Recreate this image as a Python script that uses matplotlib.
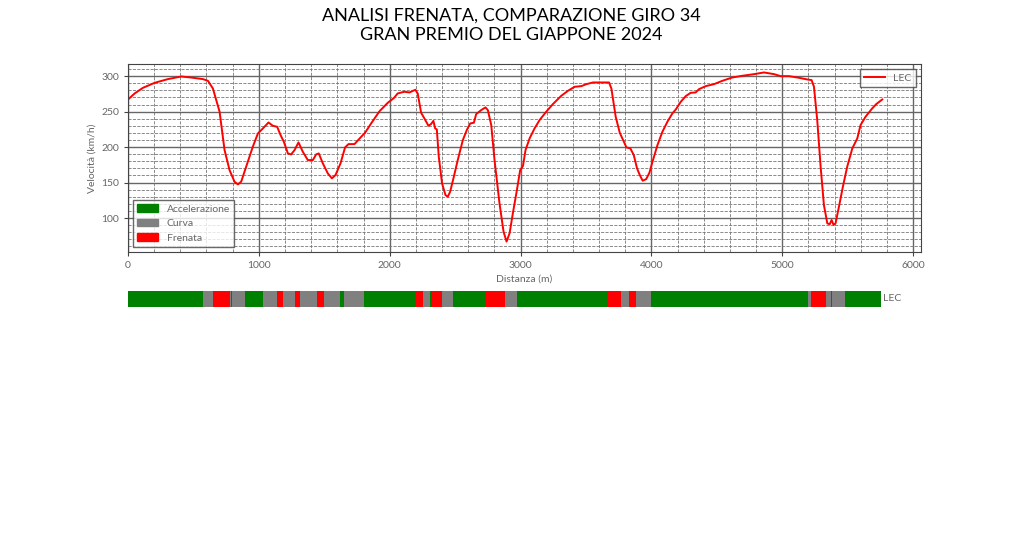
import matplotlib
matplotlib.use('Agg')
import matplotlib.pyplot as plt
from matplotlib.patches import Patch
from matplotlib.ticker import MultipleLocator

plt.rcParams['font.family'] = ['Lato', 'DejaVu Sans']

# giro 34 - LEC, distanza (m) e velocita (km/h)
dist = [0, 51, 115, 204, 305, 407, 484, 573, 611, 649, 700, 738, 776, 814, 840,
        865, 903, 954, 993, 1031, 1074, 1107, 1140, 1166, 1191, 1222, 1247, 1273,
        1303, 1336, 1374, 1413, 1438, 1458, 1489, 1527, 1558, 1586, 1624, 1659,
        1685, 1731, 1782, 1812, 1858, 1922, 1985, 2031, 2061, 2112, 2151, 2196,
        2214, 2240, 2265, 2296, 2316, 2334, 2347, 2360, 2375, 2400, 2426, 2444,
        2462, 2487, 2520, 2559, 2589, 2615, 2643, 2661, 2699, 2732, 2750, 2776,
        2801, 2839, 2870, 2893, 2916, 2941, 2972, 2997, 3018, 3038, 3069, 3107,
        3145, 3196, 3247, 3311, 3362, 3413, 3464, 3503, 3554, 3617, 3676, 3694,
        3727, 3758, 3783, 3809, 3839, 3865, 3890, 3911, 3933, 3960, 3985, 4008,
        4046, 4084, 4122, 4160, 4186, 4224, 4262, 4300, 4338, 4364, 4415, 4478,
        4542, 4618, 4695, 4784, 4860, 4937, 4987, 5051, 5127, 5191, 5224, 5242,
        5267, 5293, 5318, 5344, 5362, 5377, 5392, 5407, 5433, 5463, 5496, 5535,
        5573, 5598, 5636, 5687, 5718, 5764]
speed = [267, 275.6, 283.6, 290.6, 295.8, 299.5, 298, 295.8, 293.4, 282.6, 249.8,
         195.8, 167.6, 151.2, 147.4, 151.2, 172.3, 200.5, 219.2, 226.3, 234.7, 230,
         228.6, 216.9, 207.5, 191, 189.7, 195.8, 206.6, 193.4, 181.7, 181.7, 189.7,
         191, 177, 162.9, 155.9, 160.6, 177, 199.5, 204.2, 204.2, 214.5, 220.2,
         233.3, 250.5, 262.4, 269, 275.6, 278, 277, 280.8, 275.6, 248.4, 240.4, 230,
         232.4, 237, 226.3, 224.9, 186.4, 148.8, 132.4, 130, 137.1, 155.9, 181.7,
         209.9, 224, 233.3, 234.3, 246.5, 252.1, 255.9, 252.1, 231, 181.7, 120.7,
         80.7, 66.7, 78.4, 106.6, 139.4, 167.6, 173.2, 195.8, 212.2, 226.3, 238,
         249.8, 260.6, 272.3, 279.3, 285, 285.9, 288.7, 291.1, 291.1, 291.1, 282.6,
         242.7, 220.2, 209.9, 199.5, 198.1, 188.7, 170, 160.6, 152.6, 154.8, 164,
         179.3, 202.8, 221.6, 235.7, 247.4, 253, 263.8, 271.8, 276.5, 277, 281.7,
         285.9, 288.7, 293.4, 298.1, 300.5, 302.8, 305.2, 302.8, 300, 300, 297.7,
         295.3, 294.4, 285, 238, 172.3, 118.3, 92.5, 91.1, 97.2, 90.1, 92.5, 116,
         144.1, 172.3, 198.1, 212.2, 231, 242.7, 254.5, 260.6, 267.1]

# fasi: inizio, fine (m), tipo
seg_start = [0, 573, 649, 776, 786, 797, 898, 1031, 1140, 1183, 1278, 1318, 1443,
             1499, 1621, 1647, 1802, 2201, 2252, 2311, 2321, 2400, 2486, 2728,
             2878, 2974, 3657, 3769, 3830, 3883, 3998, 5196, 5222, 5331, 5369,
             5379, 5476]
seg_end = seg_start[1:] + [5756]
seg_type = ['A', 'C', 'F', 'C', 'F', 'C', 'A', 'C', 'F', 'C', 'F', 'C', 'F',
            'C', 'A', 'C', 'A', 'F', 'C', 'A', 'F', 'C', 'A', 'F',
            'C', 'A', 'F', 'C', 'F', 'C', 'A', 'C', 'F', 'C', 'F',
            'C', 'A']
colori = {'A': 'green', 'C': 'gray', 'F': 'red'}

txt = '#666666'
fig = plt.figure(figsize=(10.23, 5.34), dpi=100)
ax = fig.add_axes([0.1251, 0.528, 0.7752, 0.352])
ax.plot(dist, speed, color='red', lw=1.4, label='LEC')
ax.set_xlim(0, 6060)
ax.set_ylim(52, 317)
ax.xaxis.set_major_locator(MultipleLocator(1000))
ax.xaxis.set_minor_locator(MultipleLocator(200))
ax.yaxis.set_major_locator(MultipleLocator(50))
ax.yaxis.set_minor_locator(MultipleLocator(10))
ax.set_yticks([100, 150, 200, 250, 300])
ax.grid(which='major', color='#666666', lw=1.0)
ax.grid(which='minor', color='#777777', lw=0.6, ls='--')
ax.set_axisbelow(True)
for s in ax.spines.values():
    s.set_color('#444444')
ax.tick_params(labelsize=7.5, labelcolor=txt, color='#444444', length=3)
ax.tick_params(which='minor', length=0)
ax.set_xlabel('Distanza (m)', fontsize=7.5, color=txt, labelpad=3)
ax.set_ylabel('Velocità (km/h)', fontsize=7.5, color=txt, labelpad=3)

leg1 = ax.legend(loc='upper right', fontsize=7.5, fancybox=False,
                 edgecolor='#444444', labelcolor=txt)
ax.add_artist(leg1)
handles = [Patch(color='green', label='Accelerazione'),
           Patch(color='gray', label='Curva'),
           Patch(color='red', label='Frenata')]
ax.legend(handles=handles, loc='lower left', fontsize=7.5, fancybox=False,
          edgecolor='#444444', labelcolor=txt)

fig.suptitle('ANALISI FRENATA, COMPARAZIONE GIRO 34\nGRAN PREMIO DEL GIAPPONE 2024',
             fontsize=13, y=0.985, color='black')

# barra delle fasi
bx = fig.add_axes([0.1251, 0.4257, 0.7752, 0.0294])
for a, b, t in zip(seg_start, seg_end, seg_type):
    bx.barh(0, b - a, left=a, height=1, color=colori[t])
bx.set_xlim(0, 6060)
bx.set_ylim(-0.5, 0.5)
bx.axis('off')
bx.text(seg_end[-1] + 10, 0, 'LEC', fontsize=7.5, color=txt, va='center', ha='left')

plt.savefig('out.png', dpi=100)
